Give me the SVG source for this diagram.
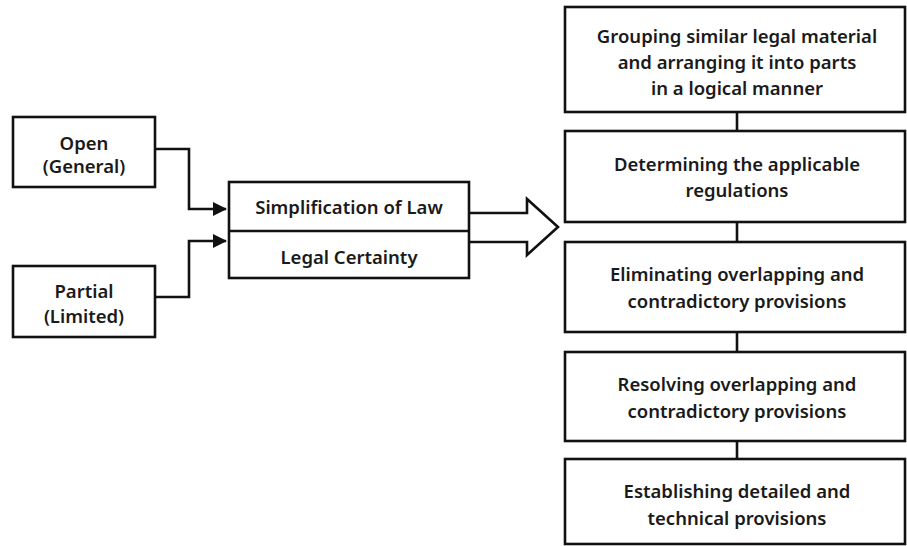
<svg xmlns="http://www.w3.org/2000/svg" width="907" height="546" viewBox="0 0 907 546">
<defs>
<style>
.box{fill:#fff;stroke:#111;stroke-width:2.6}
.t{font-family:"Noto Sans","Open Sans",sans-serif;font-weight:600;font-size:18.5px;fill:#1a1a1a;text-anchor:middle;dominant-baseline:central}
.c{fill:none;stroke:#111;stroke-width:2.6}
</style>
<marker id="ah" markerWidth="14" markerHeight="14" refX="13" refY="7" orient="auto" markerUnits="userSpaceOnUse">
<path d="M0,0 L14,7 L0,14 Z" fill="#111"/>
</marker>
</defs>
<rect width="907" height="546" fill="#fff"/>
<g id="open"><rect class="box" x="13" y="117" width="142" height="70"/><text class="t" x="84" y="142">Open</text><text class="t" x="84" y="165">(General)</text></g>
<g id="partial"><rect class="box" x="13" y="266" width="142" height="71"/><text class="t" x="84" y="290">Partial</text><text class="t" x="84" y="315">(Limited)</text></g>
<g id="center"><rect class="box" x="229" y="182" width="240" height="96"/><line class="c" x1="229" y1="231" x2="469" y2="231"/><text class="t" x="349" y="206">Simplification of Law</text><text class="t" x="349" y="256">Legal Certainty</text></g>
<g id="r1"><rect class="box" x="565" y="7" width="340" height="105"/><text class="t" x="737" y="35">Grouping similar legal material</text><text class="t" x="737" y="61">and arranging it into parts</text><text class="t" x="737" y="87">in a logical manner</text></g>
<g id="r2"><rect class="box" x="565" y="131" width="340" height="91"/><text class="t" x="737" y="163">Determining the applicable</text><text class="t" x="737" y="189">regulations</text></g>
<g id="r3"><rect class="box" x="565" y="242" width="340" height="90"/><text class="t" x="737" y="273">Eliminating overlapping and</text><text class="t" x="737" y="300">contradictory provisions</text></g>
<g id="r4"><rect class="box" x="565" y="352" width="340" height="89"/><text class="t" x="737" y="383">Resolving overlapping and</text><text class="t" x="737" y="410">contradictory provisions</text></g>
<g id="r5"><rect class="box" x="565" y="459" width="340" height="85"/><text class="t" x="737" y="490">Establishing detailed and</text><text class="t" x="737" y="517">technical provisions</text></g>
<g id="connectors">
<path class="c" d="M155,149 H189 V209 H226" marker-end="url(#ah)"/>
<path class="c" d="M155,297 H189 V241 H226" marker-end="url(#ah)"/>
<path class="c" d="M469,213 H527 V199 L558,227 L527,255 V242 H469"/>
<line class="c" x1="737" y1="112" x2="737" y2="131"/>
<line class="c" x1="737" y1="222" x2="737" y2="242"/>
<line class="c" x1="737" y1="332" x2="737" y2="352"/>
<line class="c" x1="737" y1="441" x2="737" y2="459"/>
</g>
</svg>
